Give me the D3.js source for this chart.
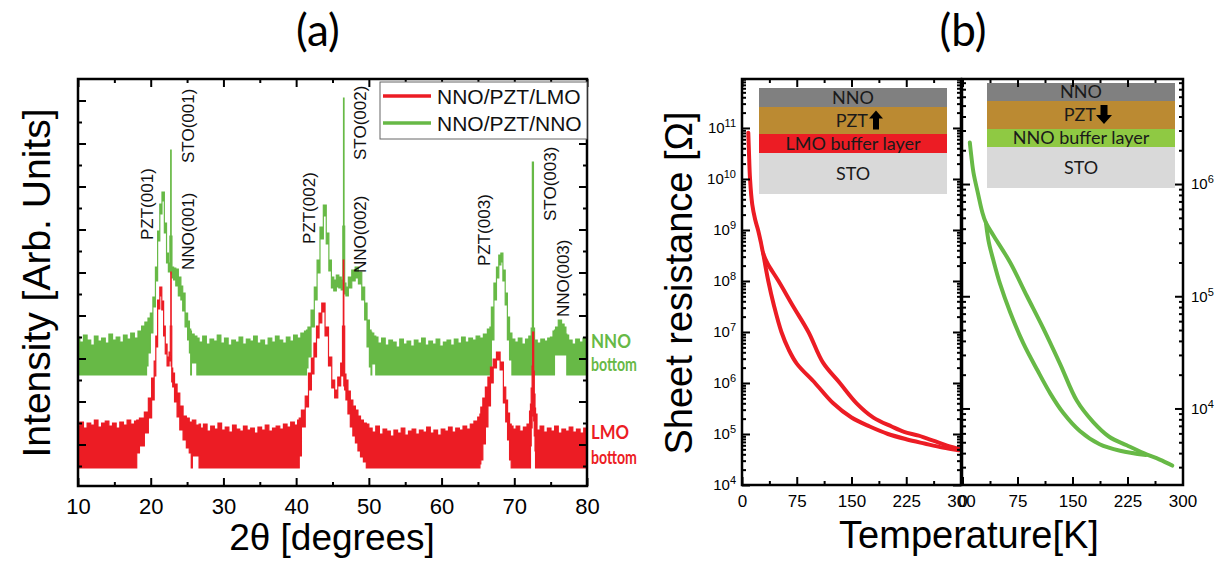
<!DOCTYPE html>
<html><head><meta charset="utf-8">
<script src="https://cdn.jsdelivr.net/npm/d3@7/dist/d3.min.js"></script>
<style>body{margin:0;background:#fff}svg{display:block}</style>
</head><body>
<svg id="c" width="1226" height="563"></svg>
<script>
// ---------------- DATA ----------------
// Panel (a): XRD spectra, noisy band given as [2theta, upper, lower] (arb. units)
const lmoBand = [
[10,60,18],[10.5,64,18],[11,58,18],[11.5,63,18],[12,61,18],[12.5,66,18],[13,59,18],[13.5,63,18],[14,65,18],[14.5,60,18],[15,63,18],[15.5,58,18],[16,64,18],[16.5,61,18],[17,66,18],[17.5,62,18],[18.05,65,18],
[18.1,66,33],[18.8,68,40],[19.45,74,53],[19.9,88,68],[20.35,108,86],[20.6,125,110],[20.8,150,139],[21.1,186,177],[21.4,199,190],[21.65,185,176],[21.9,160,150],[22.1,142,132],[22.4,129,120],[22.65,134,125],[22.74,160,128],[22.79,214,130],[22.84,160,120],[22.95,118,104],[23.1,113,99],[23.45,102,84],[23.8,93,69],[24.2,80,56],[24.7,70,46],[25.1,68,38],[25.5,64,33],[25.65,63,18],[25.8,66,30],[26.6,61,30],[26.7,62,18],
[27,58,18],[27.5,62,18],[28,55,18],[28.5,60,18],[29,57,18],[29.5,63,18],[30,56,18],[30.5,59,18],[31,54,18],[31.5,61,18],[32,57,18],[32.5,55,18],[33,60,18],[33.5,56,18],[34,58,18],[34.5,53,18],[35,59,18],[35.5,56,18],[36,61,18],[36.5,55,18],[37,58,18],[37.5,60,18],[38,57,18],[38.5,62,18],[39,59,18],[39.5,64,18],[40,61,18],[40.4,66,18],
[40.45,68,30],[41.0,76,59],[41.5,90,79],[41.9,113,96],[42.3,128,112],[42.6,143,129],[43.0,160,148],[43.3,173,163],[43.75,183,174],[44.2,159,150],[44.7,129,120],[45.1,106,98],[45.5,96,88],[45.95,109,100],[46.3,123,110],[46.45,160,112],[46.52,226,110],[46.6,160,100],[46.75,112,96],[46.95,106,86],[47.3,95,72],[47.6,86,59],[48.0,80,50],[48.3,76,43],[48.7,70,35],[49.0,66,29],[49.5,63,24],[49.8,62,18],
[50.2,58,18],[50.7,54,18],[51.2,60,18],[51.7,52,18],[52.2,57,18],[52.7,55,18],[53.2,50,18],[53.7,56,18],[54.2,53,18],[54.7,58,18],[55.2,51,18],[55.7,55,18],[56.2,57,18],[56.7,52,18],[57.2,56,18],[57.7,54,18],[58.2,59,18],[58.7,53,18],[59.2,56,18],[59.7,51,18],[60.2,57,18],[60.7,55,18],[61.2,59,18],[61.7,54,18],[62.2,58,18],[62.7,56,18],[63.2,60,18],[63.7,57,18],[64.2,62,18],[64.7,65,18],[65.25,69,18],
[65.3,72,22],[65.5,79,26],[65.85,88,42],[66.2,99,59],[66.55,109,80],[66.9,119,103],[67.3,127,118],[67.8,134,126],[68.3,124,116],[68.7,99,83],[68.95,86,64],[69.2,73,46],[69.5,62,26],[69.65,60,18],
[70.0,57,18],[70.5,60,18],[71.0,55,18],[71.5,59,18],[72.0,62,18],[72.2,75,18],[72.25,82,40],[72.4,98,58],[72.5,120,70],[72.56,154,75],[72.64,154,75],[72.7,115,65],[72.8,92,50],[72.9,78,35],[72.95,72,18],
[73.3,56,18],[73.8,60,18],[74.3,54,18],[74.8,58,18],[75.3,55,18],[75.8,60,18],[76.3,53,18],[76.8,57,18],[77.3,55,18],[77.8,59,18],[78.3,54,18],[78.8,57,18],[79.3,53,18],[79.8,58,18],[80,56,18]
];
const nnoBand = [
[10,149,111],[10.5,144,111],[11,151,111],[11.5,146,111],[12,141,111],[12.5,150,111],[13,145,111],[13.5,148,111],[14,143,111],[14.5,152,111],[15,146,111],[15.5,149,111],[16,144,111],[16.5,151,111],[17,147,111],[17.5,153,111],[18,148,111],[18.5,155,111],[19,160,111],[19.4,164,111],
[19.45,164,120],[19.8,168,133],[20.1,173,153],[20.5,189,179],[20.8,219,205],[21.1,255,245],[21.4,282,272],[21.7,294,285],[22.05,263,253],[22.3,233,223],[22.56,223,214],[22.72,250,214],[22.78,336,214],[22.84,250,212],[23.0,219,208],[23.3,218,206],[23.6,217,200],[24.0,209,190],[24.3,200,186],[24.5,193,175],[24.95,173,159],[25.2,165,146],[25.45,157,133],[25.55,155,111],[25.65,152,123],[26.3,150,123],[26.4,148,111],
[26.9,144,111],[27.4,150,111],[27.9,142,111],[28.4,147,111],[28.9,145,111],[29.4,151,111],[29.9,143,111],[30.4,148,111],[30.9,141,111],[31.4,146,111],[31.9,144,111],[32.4,149,111],[32.9,142,111],[33.4,147,111],[33.9,145,111],[34.4,150,111],[34.9,143,111],[35.4,146,111],[35.9,141,111],[36.4,148,111],[36.9,144,111],[37.4,150,111],[37.9,146,111],[38.4,143,111],[38.9,149,111],[39.4,145,111],[39.9,151,111],[40.4,148,111],[40.9,153,111],[41.4,155,111],
[41.45,156,118],[41.8,159,129],[42.3,176,159],[42.7,199,186],[43.06,226,213],[43.5,259,247],[43.98,281,270],[44.3,253,242],[44.7,226,215],[45.0,209,198],[45.35,206,195],[45.7,211,199],[46.04,209,198],[46.36,206,196],[46.48,260,196],[46.55,388,196],[46.62,260,194],[46.73,203,192],[46.96,199,190],[47.4,209,198],[47.9,216,205],[48.33,219,208],[48.8,214,202],[49.25,199,186],[49.6,183,166],[49.9,166,139],[50.25,156,119],[50.35,154,111],[50.45,153,122],[50.9,150,122],[51.0,149,111],
[51.5,143,111],[52,148,111],[52.5,141,111],[53,146,111],[53.5,144,111],[54,139,111],[54.5,147,111],[55,142,111],[55.5,145,111],[56,140,111],[56.5,146,111],[57,143,111],[57.5,148,111],[58,141,111],[58.5,145,111],[59,142,111],[59.5,147,111],[60,140,111],[60.5,144,111],[61,146,111],[61.5,141,111],[62,147,111],[62.5,143,111],[63,149,111],[63.5,144,111],[64,148,111],[64.5,146,111],[65,150,111],[65.5,148,111],[66,152,111],[66.6,157,111],
[66.7,159,116],[67.0,179,146],[67.4,203,186],[67.7,219,208],[68.04,231,221],[68.27,233,224],[68.6,216,205],[68.9,193,181],[69.2,169,146],[69.5,153,126],[69.85,147,111],
[70.3,144,111],[70.8,148,111],[71.3,142,111],[71.8,147,111],[72.2,150,111],[72.45,158,111],[72.52,324,111],[72.6,324,111],[72.67,158,111],[72.9,146,111],[73.4,143,111],[73.9,147,111],[74.4,145,111],[74.8,148,111],[75.15,149,111],[75.5,155,111],[75.55,156,131],[75.8,159,131],[76.3,166,131],[76.7,162,131],[77.0,159,131],[77.2,152,131],[77.25,151,111],[77.7,146,111],[78.2,142,111],[78.7,147,111],[79.2,144,111],[79.7,148,111],[80,145,111]
];
const xTicksA = [10,20,30,40,50,60,70,80];
const xMinorA = [15,25,35,45,55,65,75];
const yTicksA = [41.5,84.5,127.5,170.5,213.5,256.5,299.5,342.5,385.5];
const yMinorA = [20,63,106,149,192,235,278,321,364];
const seriesNames = ["NNO/PZT/LMO","NNO/PZT/NNO"];
// peak labels: 2theta of the text baseline, intensity where the text starts
const peakLabels = [
  {t:"PZT(001)", x:20.35, v:246}, {t:"STO(001)", x:26.0, v:323}, {t:"NNO(001)", x:26.0, v:216},
  {t:"PZT(002)", x:42.6, v:242}, {t:"STO(002)", x:49.6, v:326}, {t:"NNO(002)", x:49.6, v:213},
  {t:"PZT(003)", x:66.7, v:220}, {t:"STO(003)", x:75.7, v:265}, {t:"NNO(003)", x:77.5, v:169}
];

// Panel (b): sheet resistance vs temperature [T (K), R (Ohm)]
const lmoUpper = [[8.6,8.1e10],[9.5,3.5e10],[11,1.0e10],[14,3.2e9],[18,1.6e9],[22,1.0e9],[26,5.6e8],[29,3.5e8],[35,2.2e8],[50,1.0e8],[70,3.2e7],[91,1.0e7],[111,2.5e6],[134,1.0e6],[157,4.0e5],[180,2.1e5],[205,1.4e5],[222,1.1e5],[242,9.3e4],[262,7.4e4],[281,5.9e4],[299,5.0e4]];
const lmoLower = [[29,3.5e8],[36,1.0e8],[44,3.2e7],[54,1.0e7],[64,4.5e6],[75,2.4e6],[100,1.0e6],[125,4.0e5],[150,2.1e5],[175,1.4e5],[200,1.0e5],[225,7.9e4],[250,6.5e4],[275,5.4e4],[297,4.8e4]];
const nnoUpper = [[10,2.34e6],[12,1.78e6],[15,1.26e6],[21,8.3e5],[27,5.6e5],[32,4.5e5],[42,3.5e5],[65,2.0e5],[88,1.0e5],[110,5.2e4],[133,2.5e4],[156,1.17e4],[178,7.6e3],[200,5.6e3],[224,4.7e3],[247,4.0e3],[269,3.5e3],[286,3.1e3]];
const nnoLower = [[32,4.5e5],[36,3.0e5],[42,2.1e5],[51,1.3e5],[65,7.2e4],[83,3.8e4],[102,2.2e4],[120,1.35e4],[137,9.2e3],[160,6.3e3],[187,4.8e3],[215,4.2e3],[250,3.85e3]];
const tTicks = [0,75,150,225,300];
const tMinor = [37.5,112.5,187.5,262.5];
const rTicksL = [1e4,1e5,1e6,1e7,1e8,1e9,1e10,1e11];
const rTicksR = [1e4,1e5,1e6];
const stackL = [{n:"NNO",c:"#808080"},{n:"PZT",c:"#bb8a32",arrow:"up"},{n:"LMO buffer layer",c:"#ec1c24"},{n:"STO",c:"#d9d9d9"}];
const stackR = [{n:"NNO",c:"#808080"},{n:"PZT",c:"#bb8a32",arrow:"down"},{n:"NNO buffer layer",c:"#8fc943"},{n:"STO",c:"#d9d9d9"}];

// ---------------- DRAW ----------------
const RED = "#ec1c24", GREEN = "#67b946";
const FONT = "'Liberation Sans', Arial, Helvetica, sans-serif";
const CAL = "Lato, 'Open Sans', sans-serif";
const svg = d3.select('#c');
const defs = svg.append('defs');

function styleAxis(s, size){
  s.attr('font-family', FONT).attr('font-size', size);
  s.select('.domain').remove();
  s.selectAll('line').attr('stroke','#000').attr('stroke-width',2);
  s.selectAll('text').attr('fill','#000');
  return s;
}
function addAxis(g, axis, tx, ty, size){
  return styleAxis(g.append('g').attr('transform',`translate(${tx},${ty})`).call(axis), size);
}
function logMinors(lo, hi){
  const out=[];
  for(let e=Math.floor(Math.log10(lo)); e<=Math.ceil(Math.log10(hi)); e++)
    for(let m=2;m<=9;m++){ const v=m*Math.pow(10,e); if(v>lo && v<hi) out.push(v); }
  return out;
}
function supFmt(s){
  s.selectAll('.tick text').each(function(d){
    const e=Math.round(Math.log10(d)); const t=d3.select(this); t.text(null);
    t.append('tspan').text('10');
    t.append('tspan').attr('font-size','11px').attr('dy','-0.55em').text(e);
  });
}

// ---- Panel (a)
const A = {l:78, r:587, t:79, b:486};
const xA = d3.scaleLinear().domain([10,80]).range([A.l,A.r]);
const yA = d3.scaleLinear().domain([0,407]).range([A.b,A.t]);
defs.append('clipPath').attr('id','clipA').append('rect').attr('x',A.l).attr('y',A.t).attr('width',A.r-A.l).attr('height',A.b-A.t);
const gA = svg.append('g');
const bandArea = d3.area().x(d=>xA(d[0])).y0(d=>yA(d[2])).y1(d=>yA(d[1])).curve(d3.curveStep);
const plotA = gA.append('g').attr('clip-path','url(#clipA)');
plotA.append('path').datum(nnoBand).attr('d',bandArea).attr('fill',GREEN).attr('stroke',GREEN).attr('stroke-width',1.2);
plotA.append('path').datum(lmoBand).attr('d',bandArea).attr('fill',RED).attr('stroke',RED).attr('stroke-width',1.2);

addAxis(gA, d3.axisBottom(xA).tickValues(xTicksA).tickSize(-8).tickPadding(12), 0, A.b, 22);
addAxis(gA, d3.axisBottom(xA).tickValues(xMinorA).tickSize(-4).tickFormat(''), 0, A.b, 10);
addAxis(gA, d3.axisTop(xA).tickValues(xTicksA).tickSize(-8).tickFormat(''), 0, A.t, 10);
addAxis(gA, d3.axisTop(xA).tickValues(xMinorA).tickSize(-4).tickFormat(''), 0, A.t, 10);
addAxis(gA, d3.axisLeft(yA).tickValues(yTicksA).tickSize(-8).tickFormat(''), A.l, 0, 10);
addAxis(gA, d3.axisLeft(yA).tickValues(yMinorA).tickSize(-4).tickFormat(''), A.l, 0, 10);
addAxis(gA, d3.axisRight(yA).tickValues(yTicksA).tickSize(-8).tickFormat(''), A.r, 0, 10);
addAxis(gA, d3.axisRight(yA).tickValues(yMinorA).tickSize(-4).tickFormat(''), A.r, 0, 10);
gA.append('rect').attr('x',A.l).attr('y',A.t).attr('width',A.r-A.l).attr('height',A.b-A.t).attr('fill','none').attr('stroke','#000').attr('stroke-width',2.5);

// peak labels
gA.selectAll('text.pk').data(peakLabels).join('text').attr('class','pk')
  .attr('transform',d=>`translate(${xA(d.x)},${yA(d.v)}) rotate(-90)`)
  .attr('font-family',FONT).attr('font-size',17).attr('fill','#111').text(d=>d.t);

// legend
const lg = gA.append('g');
lg.append('rect').attr('x',380).attr('y',82).attr('width',A.r-380).attr('height',57).attr('fill','#fff').attr('stroke','#666').attr('stroke-width',1);
[RED,GREEN].forEach((c,i)=>{
  lg.append('line').attr('x1',383).attr('x2',431).attr('y1',96+i*27).attr('y2',96+i*27).attr('stroke',c).attr('stroke-width',3.5);
  lg.append('text').attr('x',437).attr('y',103.5+i*27).attr('font-family',FONT).attr('font-size',21).attr('fill','#111').text(seriesNames[i]);
});
// side labels
[["NNO",348,GREEN,40],["bottom",371,GREEN,46],["LMO",439,RED,38],["bottom",464,RED,46]].forEach(d=>{
  gA.append('text').attr('x',591).attr('y',d[1]).attr('font-family',CAL).attr('font-weight','bold').attr('font-size',19)
    .attr('textLength',d[3]).attr('lengthAdjust','spacingAndGlyphs').attr('fill',d[2]).text(d[0]);
});
// axis titles
svg.append('text').attr('x',332).attr('y',550).attr('text-anchor','middle').attr('font-family',FONT).attr('font-size',37).text('2θ [degrees]');
svg.append('text').attr('transform','translate(50,283) rotate(-90)').attr('text-anchor','middle').attr('font-family',FONT).attr('font-size',39).text('Intensity [Arb. Units]');
svg.append('text').attr('x',318).attr('y',46).attr('text-anchor','middle').attr('font-family',CAL).attr('font-size',44).text('(a)');
svg.append('text').attr('x',963).attr('y',46).attr('text-anchor','middle').attr('font-family',CAL).attr('font-size',44).text('(b)');

// ---- Panel (b)
const B1 = {l:742, r:961, t:79, b:485};
const B2 = {l:962, r:1183, t:79, b:485};
const xB1 = d3.scaleLinear().domain([0,300]).range([B1.l,B1.r]);
const xB2 = d3.scaleLinear().domain([0,300]).range([962.5,1182.5]);
const yB1 = d3.scaleLog().domain([1e4, Math.pow(10,11.96)]).range([B1.b,B1.t]);
const yB2 = d3.scaleLog().domain([Math.pow(10,3.318), Math.pow(10,6.936)]).range([B2.b,B2.t]);
const gB = svg.append('g');

function drawInset(stack, x0, x1, ys, textYs){
  stack.forEach((s,i)=>{
    gB.append('rect').attr('x',x0).attr('y',ys[i]).attr('width',x1-x0).attr('height',ys[i+1]-ys[i]).attr('fill',s.c);
    const cx=(x0+x1)/2;
    if(s.arrow){
      gB.append('text').attr('x',cx+15).attr('y',textYs[i]).attr('text-anchor','end').attr('font-family',CAL).attr('font-size',18).attr('fill','#1a1a1a').text(s.n);
      const ax=cx+23, top=(ys[i]+ys[i+1])/2-10, h=19;
      const p = s.arrow==='up'
        ? `M${ax},${top} L${ax+7},${top+8} L${ax+3},${top+8} L${ax+3},${top+h} L${ax-3},${top+h} L${ax-3},${top+8} L${ax-7},${top+8} Z`
        : `M${ax},${top+h} L${ax+8},${top+h-9} L${ax+3.5},${top+h-9} L${ax+3.5},${top} L${ax-3.5},${top} L${ax-3.5},${top+h-9} L${ax-8},${top+h-9} Z`;
      gB.append('path').attr('d',p).attr('fill','#000');
    } else {
      gB.append('text').attr('x',cx).attr('y',textYs[i]).attr('text-anchor','middle').attr('font-family',CAL).attr('font-size',18).attr('fill','#1a1a1a').text(s.n);
    }
  });
}
drawInset(stackL, 759, 947, [88,107,134,153,194], [104,127,150,180]);
drawInset(stackR, 987, 1175, [83,101,129,147,188], [98,121,144,174]);

const line1 = d3.line().x(d=>xB1(d[0])).y(d=>yB1(d[1])).curve(d3.curveCatmullRom);
const line2 = d3.line().x(d=>xB2(d[0])).y(d=>yB2(d[1])).curve(d3.curveCatmullRom);
[lmoUpper,lmoLower].forEach(dd=>gB.append('path').datum(dd).attr('d',line1).attr('fill','none').attr('stroke',RED).attr('stroke-width',4).attr('stroke-linecap','round'));
[nnoUpper,nnoLower].forEach(dd=>gB.append('path').datum(dd).attr('d',line2).attr('fill','none').attr('stroke',GREEN).attr('stroke-width',4).attr('stroke-linecap','round'));

// axes B1
addAxis(gB, d3.axisBottom(xB1).tickValues(tTicks).tickSize(-8).tickPadding(10), 0, B1.b, 17);
addAxis(gB, d3.axisBottom(xB1).tickValues(tMinor).tickSize(-4).tickFormat(''), 0, B1.b, 10);
addAxis(gB, d3.axisTop(xB1).tickValues(tTicks).tickSize(-8).tickFormat(''), 0, B1.t, 10);
addAxis(gB, d3.axisTop(xB1).tickValues(tMinor).tickSize(-4).tickFormat(''), 0, B1.t, 10);
supFmt(addAxis(gB, d3.axisLeft(yB1).tickValues(rTicksL).tickSize(-8).tickPadding(6), B1.l, 0, 15));
const minL = logMinors(yB1.domain()[0], yB1.domain()[1]);
addAxis(gB, d3.axisLeft(yB1).tickValues(minL).tickSize(-4).tickFormat(''), B1.l, 0, 10);
addAxis(gB, d3.axisRight(yB1).tickValues(rTicksL).tickSize(-8).tickFormat(''), B1.r, 0, 10);
addAxis(gB, d3.axisRight(yB1).tickValues(minL).tickSize(-4).tickFormat(''), B1.r, 0, 10);
// axes B2
addAxis(gB, d3.axisBottom(xB2).tickValues(tTicks).tickSize(-8).tickPadding(10), 0, B2.b, 17);
addAxis(gB, d3.axisBottom(xB2).tickValues(tMinor).tickSize(-4).tickFormat(''), 0, B2.b, 10);
addAxis(gB, d3.axisTop(xB2).tickValues(tTicks).tickSize(-8).tickFormat(''), 0, B2.t, 10);
addAxis(gB, d3.axisTop(xB2).tickValues(tMinor).tickSize(-4).tickFormat(''), 0, B2.t, 10);
const minR = logMinors(yB2.domain()[0], yB2.domain()[1]);
addAxis(gB, d3.axisLeft(yB2).tickValues(rTicksR).tickSize(-8).tickFormat(''), B2.l, 0, 10);
addAxis(gB, d3.axisLeft(yB2).tickValues(minR).tickSize(-4).tickFormat(''), B2.l, 0, 10);
supFmt(addAxis(gB, d3.axisRight(yB2).tickValues(rTicksR).tickSize(-8).tickPadding(8), B2.r, 0, 15));
addAxis(gB, d3.axisRight(yB2).tickValues(minR).tickSize(-4).tickFormat(''), B2.r, 0, 10);
[B1,B2].forEach(B=>gB.append('rect').attr('x',B.l).attr('y',B.t).attr('width',B.r-B.l).attr('height',B.b-B.t).attr('fill','none').attr('stroke','#000').attr('stroke-width',2.5));

svg.append('text').attr('x',969).attr('y',548).attr('text-anchor','middle').attr('font-family',FONT).attr('font-size',38).text('Temperature[K]');
svg.append('text').attr('transform','translate(692,283) rotate(-90)').attr('text-anchor','middle').attr('font-family',FONT).attr('font-size',38).text('Sheet resistance [Ω]');
</script>
</body></html>
